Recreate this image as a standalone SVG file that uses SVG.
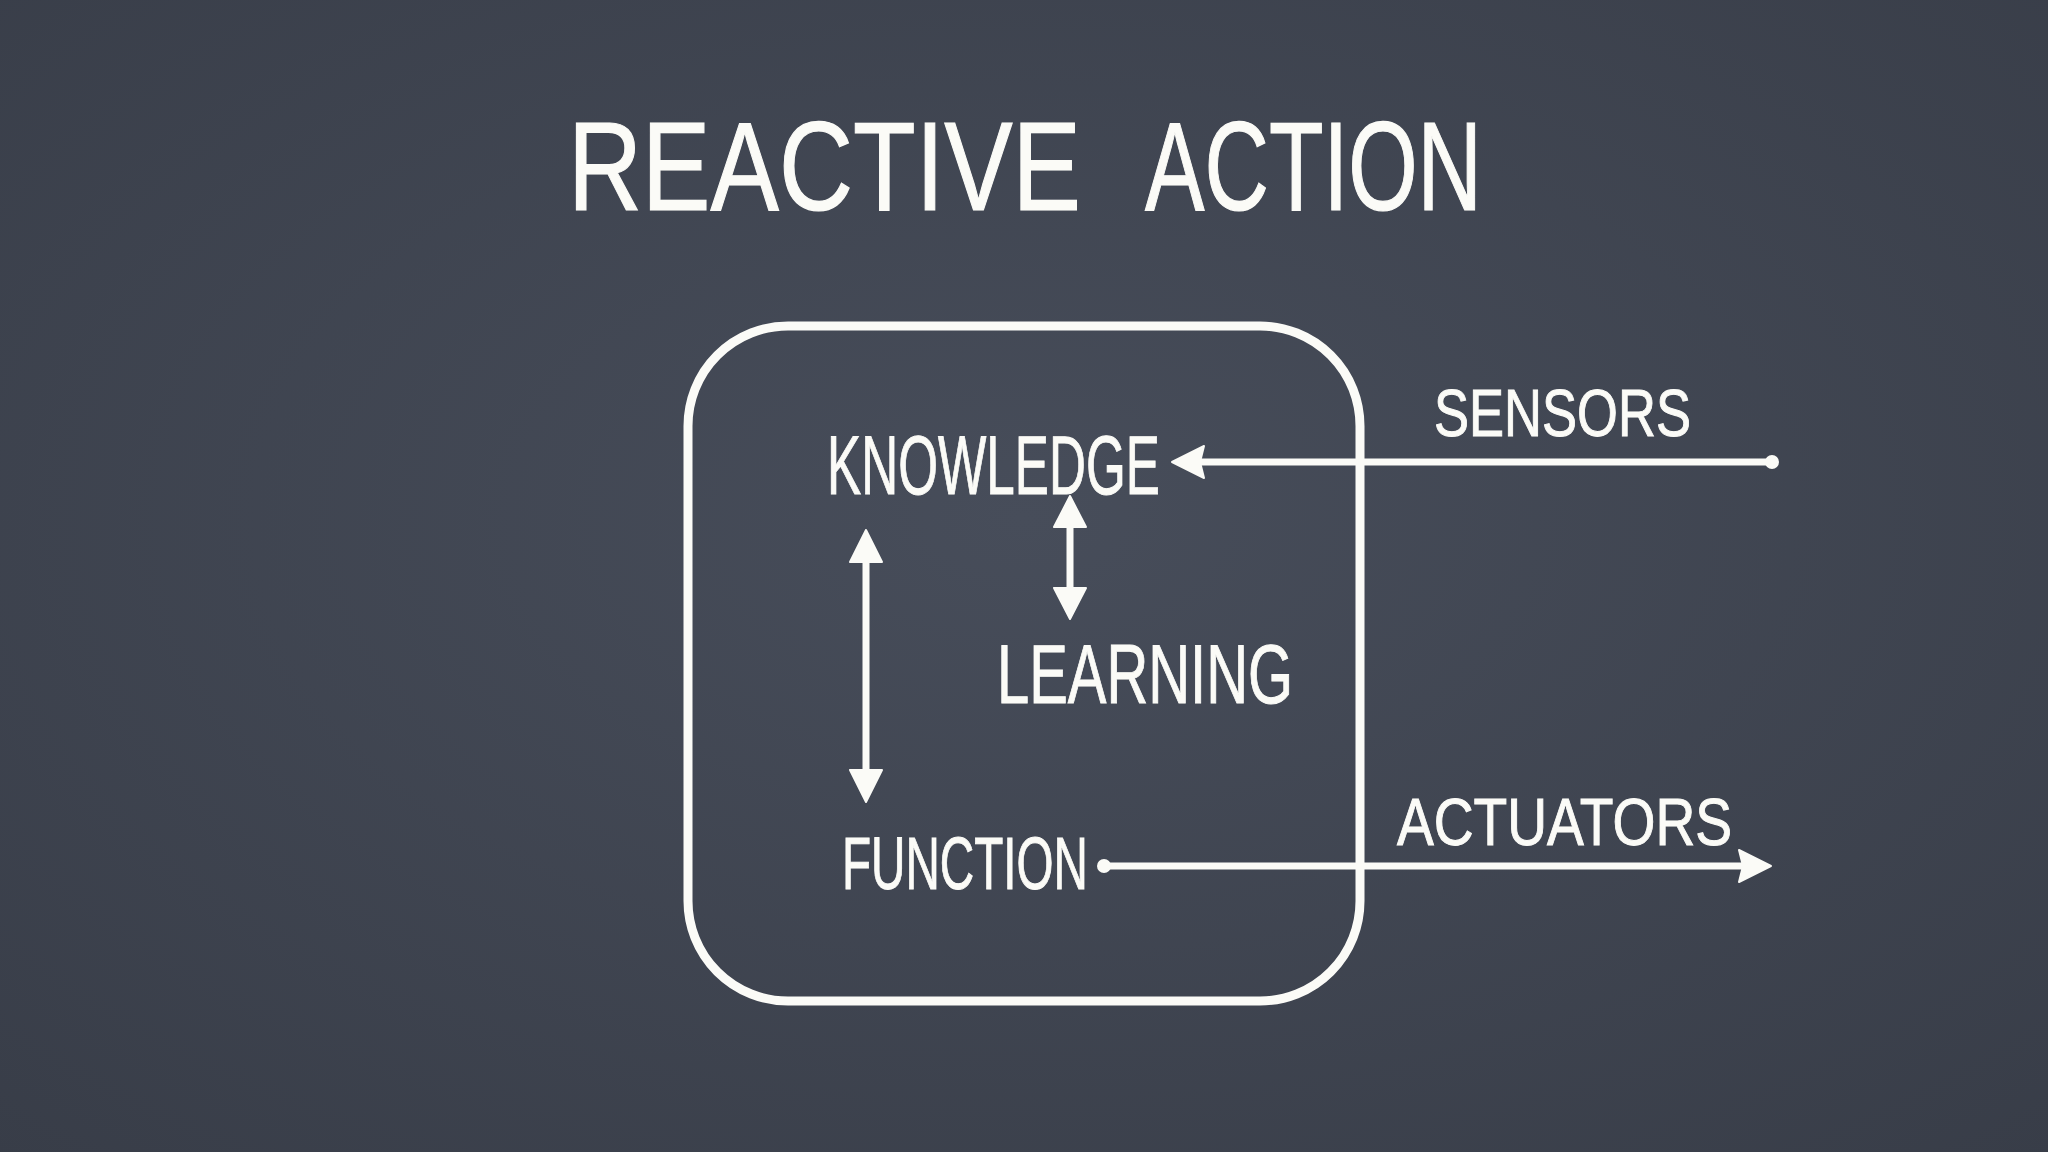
<svg xmlns="http://www.w3.org/2000/svg" width="2048" height="1152" viewBox="0 0 2048 1152">
<defs>
<radialGradient id="bg" cx="50%" cy="45%" r="75%">
<stop offset="0" stop-color="#474d5a"/>
<stop offset="1" stop-color="#383d48"/>
</radialGradient>
</defs>
<style>
.chalk{font-family:"Liberation Sans","DejaVu Sans",sans-serif;fill:#fbfbf7;stroke:#fbfbf7;stroke-width:1;}
.line{stroke:#fbfbf7;stroke-width:7;fill:none;stroke-linecap:round;}
.head{fill:#fbfbf7;stroke:#fbfbf7;stroke-width:2;stroke-linejoin:round;}
.dot{fill:#fbfbf7;}
</style>
<rect width="2048" height="1152" fill="url(#bg)"/>
<g id="title" transform="translate(0,210) scale(1,1.24)">
<text class="chalk" x="568" y="0" font-size="102" textLength="513" lengthAdjust="spacingAndGlyphs">REACTIVE</text>
<text class="chalk" x="1145" y="0" font-size="102" textLength="337" lengthAdjust="spacingAndGlyphs">ACTION</text>
</g>
<g id="box"><rect x="688" y="326" width="672" height="675" rx="100" fill="none" stroke="#fbfbf7" stroke-width="9"/></g>
<g id="knowledge"><text class="chalk" x="827" y="494" font-size="84" textLength="333" lengthAdjust="spacingAndGlyphs">KNOWLEDGE</text></g>
<g id="learning"><text class="chalk" x="997" y="703" font-size="84" textLength="296" lengthAdjust="spacingAndGlyphs">LEARNING</text></g>
<g id="function"><text class="chalk" x="842" y="889" font-size="74" textLength="246" lengthAdjust="spacingAndGlyphs">FUNCTION</text></g>
<g id="sensors"><text class="chalk" x="1434" y="436" font-size="66" textLength="257" lengthAdjust="spacingAndGlyphs">SENSORS</text></g>
<g id="actuators"><text class="chalk" x="1397" y="845" font-size="66" textLength="335" lengthAdjust="spacingAndGlyphs">ACTUATORS</text></g>
<g id="connectors">
<line class="line" x1="1198" y1="462" x2="1772" y2="462"/>
<circle class="dot" cx="1772" cy="462" r="7"/>
<path class="head" d="M1172,462 L1204,446 L1200,462 L1204,478 Z"/>
<line class="line" x1="1070" y1="522" x2="1070" y2="593"/>
<path class="head" d="M1070,496 L1054,527 L1086,527 Z"/>
<path class="head" d="M1070,619 L1054,588 L1086,588 Z"/>
<line class="line" x1="866" y1="556" x2="866" y2="776"/>
<path class="head" d="M866,530 L850,562 L882,562 Z"/>
<path class="head" d="M866,802 L850,770 L882,770 Z"/>
<line class="line" x1="1104" y1="866" x2="1745" y2="866"/>
<circle class="dot" cx="1104" cy="866" r="7"/>
<path class="head" d="M1771,866 L1739,850 L1743,866 L1739,882 Z"/>
</g>
</svg>
